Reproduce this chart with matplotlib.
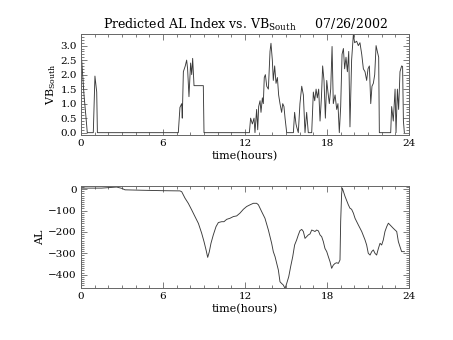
#!/usr/bin/env python3
"""
Predicted AL index and southward IMF (VB south) for 07/26/2002
"""

import numpy as np
import matplotlib
matplotlib.use("Agg")
import matplotlib.pyplot as plt
from matplotlib.ticker import MultipleLocator, AutoMinorLocator

# VB south (hours, value)
vb_hours = [0.00, 0.22, 0.37, 0.46, 0.90, 1.02, 1.15, 1.20,
            7.12, 7.24, 7.37, 7.41, 7.49, 7.63, 7.73, 7.80, 7.90, 8.02,
            8.10, 8.17, 8.27, 8.95, 9.00,
            12.32, 12.41, 12.54, 12.66, 12.73, 12.85, 12.93, 13.00, 13.10,
            13.17, 13.27, 13.34, 13.41, 13.49, 13.59, 13.71, 13.83, 13.90,
            14.00, 14.07, 14.17, 14.27, 14.37, 14.46, 14.56, 14.68, 14.76,
            14.85, 14.93, 15.05, 15.54, 15.63, 15.73, 15.78, 15.90, 16.02,
            16.15, 16.27, 16.39, 16.51, 16.63, 16.88, 17.00, 17.10, 17.20,
            17.29, 17.39, 17.49, 17.59, 17.68, 17.78, 17.88, 17.98, 18.07,
            18.17, 18.27, 18.37, 18.46, 18.59, 18.71, 18.80, 18.90, 19.00,
            19.10, 19.20, 19.29, 19.39, 19.49, 19.59, 19.68, 19.80, 19.93,
            20.02, 20.17, 20.29, 20.41, 20.54, 20.66, 20.78, 20.90, 21.00,
            21.10, 21.20, 21.29, 21.39, 21.49, 21.59, 21.68, 21.78, 21.83,
            22.66, 22.73, 22.85, 22.98, 23.05, 23.15, 23.24, 23.34, 23.46,
            23.53, 23.59, 23.66]
vb_south = [2.85, 1.30, 0.50, 0.00, 0.00, 1.95, 1.40, 0.00,
            0.00, 0.87, 1.00, 0.50, 2.10, 2.30, 2.50, 2.20, 1.24, 2.40,
            2.00, 2.56, 1.62, 1.62, 0.00,
            0.00, 0.50, 0.30, 0.50, 0.00, 0.80, 0.10, 0.90, 1.10,
            0.70, 1.20, 1.00, 1.90, 2.00, 1.60, 1.50, 2.80, 3.08,
            2.50, 1.80, 2.30, 1.70, 1.90, 1.30, 1.00, 0.70, 1.00,
            0.90, 0.50, 0.00, 0.00, 0.70, 0.30, 0.20, 0.00, 1.00,
            1.60, 1.30, 0.00, 0.70, 0.00, 0.00, 1.40, 1.10, 1.50,
            1.20, 1.50, 0.40, 1.20, 2.30, 1.80, 0.50, 1.80, 1.40,
            1.00, 1.50, 2.97, 1.00, 1.30, 0.80, 1.00, 0.00, 0.90,
            2.70, 2.90, 2.20, 2.60, 2.10, 2.80, 0.20, 2.50, 3.40,
            3.10, 3.15, 3.00, 3.10, 2.70, 2.20, 2.10, 1.80, 2.20,
            2.30, 1.00, 1.60, 1.70, 2.00, 3.00, 2.80, 2.60, 0.00,
            0.00, 0.90, 0.40, 1.50, 0.00, 1.50, 0.80, 2.10, 2.30,
            2.28, 0.40, 0.00]

# Predicted AL (hours, nT)
al_hours = [0.00, 1.50, 2.61, 2.73, 2.98, 3.22, 4.50, 6.00, 7.24, 7.37,
            7.61, 7.85, 8.10, 8.34, 8.59, 8.71, 8.83, 9.00, 9.15, 9.27,
            9.39, 9.51, 9.68, 9.88, 10.05, 10.29, 10.46, 10.66, 10.90,
            11.15, 11.39, 11.63, 11.88, 12.12, 12.37, 12.61, 12.85, 12.98,
            13.22, 13.46, 13.71, 13.95, 14.07, 14.20, 14.32, 14.44, 14.56,
            14.68, 14.80, 14.93, 15.05, 15.20, 15.34, 15.49, 15.63, 15.78,
            15.90, 16.02, 16.15, 16.27, 16.39, 16.51, 16.63, 16.76, 16.88,
            17.00, 17.12, 17.24, 17.37, 17.49, 17.61, 17.73, 17.85, 17.98,
            18.10, 18.22, 18.34, 18.46, 18.59, 18.71, 18.83, 18.95, 19.00,
            19.07, 19.12, 19.32, 19.56, 19.68, 19.80, 19.93, 20.05, 20.29,
            20.54, 20.78, 20.90, 21.02, 21.15, 21.27, 21.39, 21.51, 21.63,
            21.76, 21.88, 22.00, 22.12, 22.24, 22.37, 22.49, 22.61, 22.73,
            22.85, 22.98, 23.10, 23.22, 23.34, 23.46, 23.66]
al_index = [5, 5, 10, 8, 4, -3, -5, -7, -8, -12,
            -42, -66, -97, -128, -160, -183, -206, -245, -284, -319,
            -292, -253, -214, -175, -156, -152, -152, -141, -136,
            -128, -125, -112, -94, -81, -73, -66, -66, -73,
            -105, -136, -191, -253, -292, -316, -347, -378, -433,
            -441, -448, -464, -441, -409, -362, -316, -261, -237,
            -214, -194, -188, -198, -230, -222, -214, -209, -191,
            -194, -198, -191, -195, -214, -222, -245, -277, -292,
            -316, -339, -370, -355, -347, -344, -347, -331, -150,
            -20, 5, -34, -73, -89, -94, -112, -136, -167,
            -198, -237, -261, -300, -308, -292, -284, -300, -308,
            -277, -253, -261, -237, -198, -175, -159, -167, -175,
            -183, -191, -198, -245, -269, -292, -292]

LINE = dict(color="#3a3a3a", lw=0.65)
AX_COLOR = "#666666"

plt.rcParams['font.family'] = ['DejaVu Serif']
plt.rcParams['mathtext.fontset'] = 'dejavuserif'
plt.rcParams['font.size'] = 7


def style_axes(ax, ymajor, yminor):
    ax.set_xlim(0, 24)
    ax.xaxis.set_major_locator(MultipleLocator(6))
    ax.xaxis.set_minor_locator(AutoMinorLocator(6))
    ax.yaxis.set_major_locator(MultipleLocator(ymajor))
    ax.yaxis.set_minor_locator(AutoMinorLocator(yminor))
    ax.tick_params(which="both", direction="in", top=True, right=True,
                   color=AX_COLOR, width=0.6, labelsize=7.5, pad=3)
    ax.tick_params(which="major", length=4)
    ax.tick_params(which="minor", length=2)
    for sp in ax.spines.values():
        sp.set_color(AX_COLOR)
        sp.set_linewidth(0.7)
    ax.set_xlabel("time(hours)", fontsize=8, labelpad=2)


def main():
    fig = plt.figure(figsize=(4.53, 3.40), dpi=100)
    ax1 = fig.add_axes([0.1788, 0.603, 0.7241, 0.297])
    ax2 = fig.add_axes([0.1788, 0.153, 0.7241, 0.300])

    ax1.plot(vb_hours, vb_south, **LINE)
    ax1.set_ylim(-0.08, 3.40)
    style_axes(ax1, 0.5, 5)
    ax1.yaxis.set_major_formatter(plt.FormatStrFormatter("%.1f"))
    ax1.set_ylabel(r"$\mathrm{VB}_{\mathrm{South}}$", fontsize=8, labelpad=2)
    ax1.set_title(r"Predicted AL Index vs. $\mathrm{VB}_{\mathrm{South}}$"
                  "     07/26/2002", fontsize=9, pad=4)

    ax2.plot(al_hours, al_index, **LINE)
    ax2.set_ylim(-462, 15)
    style_axes(ax2, 100, 10)
    ax2.set_ylabel("AL", fontsize=8, labelpad=2)

    fig.savefig("out.png", dpi=100)


if __name__ == "__main__":
    main()
